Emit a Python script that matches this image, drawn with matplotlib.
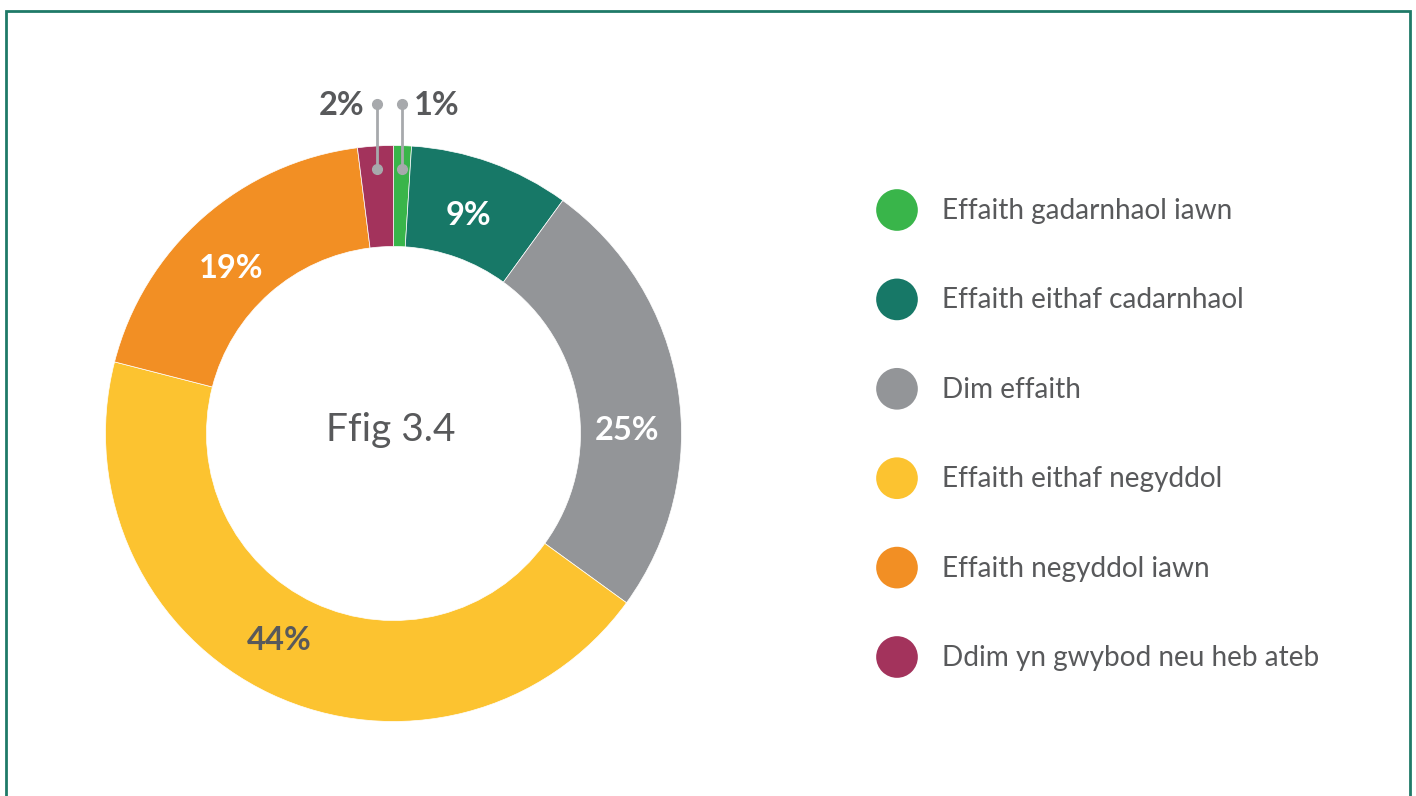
import numpy as np
import matplotlib.pyplot as plt
from matplotlib.patches import Rectangle

labels = ['Effaith gadarnhaol iawn', 'Effaith eithaf cadarnhaol', 'Dim effaith',
          'Effaith eithaf negyddol', 'Effaith negyddol iawn', 'Ddim yn gwybod neu heb ateb']
values = [1, 9, 25, 44, 19, 2]
colors = ['#39b54a', '#177867', '#939598', '#fcc330', '#f28f24', '#a3335c']
label_colors = ['#58595b', 'white', 'white', '#58595b', 'white', '#58595b']
center_text = 'Ffig 3.4'

plt.rcParams['font.family'] = ['Lato', 'DejaVu Sans']
text_col = '#58595b'

W, H = 1416, 796
fig = plt.figure(figsize=(W / 100, H / 100), dpi=100)
ax = fig.add_axes([0, 0, 1, 1])

# frame
fig.patches.append(Rectangle((6 / W, -0.05), 1404 / W, 1.05 - 11 / H, transform=fig.transFigure,
                             fill=False, edgecolor='#1f7a68', linewidth=2))

cx, cy = 393.5, H - 433.5
R, r_in = 288, 187
wedges, _ = ax.pie(values, colors=colors, startangle=90, counterclock=False,
                   radius=R, center=(cx, cy), frame=True,
                   wedgeprops=dict(width=R - r_in, edgecolor='white', linewidth=0.5))
ax.set_xlim(0, W)
ax.set_ylim(0, H)
ax.set_aspect('equal')
ax.axis('off')

ax.text(cx - 3, cy + 4, center_text, ha='center', va='center', fontsize=28, color=text_col)

# small angle nudges for in-ring labels (degrees)
nudge = [0, 1.2, -7.6, -4, 2.6, 0]
rmid = (R + r_in) / 2 - 4
for w, v, lc, dn in zip(wedges, values, label_colors, nudge):
    ang = np.deg2rad((w.theta1 + w.theta2) / 2 + dn)
    if v >= 5:
        ax.text(cx + rmid * np.cos(ang), cy + rmid * np.sin(ang) - 3, f'{v}%',
                ha='center', va='center', fontsize=23.5, fontweight='bold', color=lc)
    else:
        x0 = cx + 265 * np.cos(ang)
        y0 = cy + 265 * np.sin(ang)
        y1 = cy + 330
        ax.plot([x0, x0], [y0, y1], color='#a7a9ac', lw=2, solid_capstyle='butt')
        ax.plot([x0, x0], [y0, y1], 'o', color='#a7a9ac', ms=7)
        if np.cos(ang) > 0:
            ax.text(x0 + 12, y1 - 2, f'{v}%', ha='left', va='center', fontsize=23.5,
                    fontweight='bold', color=text_col)
        else:
            ax.text(x0 - 12, y1 - 2, f'{v}%', ha='right', va='center', fontsize=23.5,
                    fontweight='bold', color=text_col)

# legend
for i, (lab, c) in enumerate(zip(labels, colors)):
    y = H - (210 + i * 89.4)
    ax.scatter([897], [y], s=900, color=c, edgecolors='none')
    ax.text(942, y - 1, lab, ha='left', va='center', fontsize=20.2, color=text_col)

fig.savefig('out.png', dpi=100)
